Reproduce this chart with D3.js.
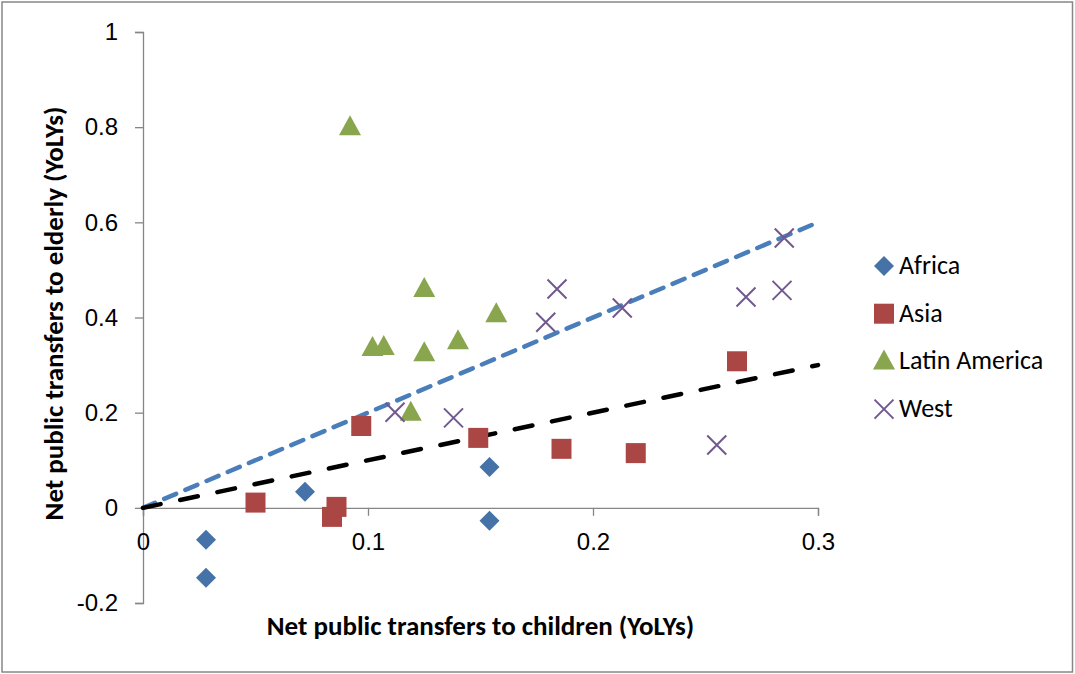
<!DOCTYPE html>
<html>
<head>
<meta charset="utf-8">
<script src="https://cdn.jsdelivr.net/npm/d3@7"></script>
<style>
  html, body { margin: 0; padding: 0; background: #fff; }
  svg { display: block; font-family: Carlito, Calibri, Lato, "Open Sans", sans-serif; }
</style>
</head>
<body>
<svg id="chart" width="1075" height="674"></svg>
<script>
// ---- data ----
const seriesNames = ["Africa", "Asia", "Latin America", "West"];
const africaX = [0.028, 0.028, 0.072, 0.154, 0.154];
const africaY = [-0.067, -0.147, 0.034, 0.086, -0.027];
const asiaX = [0.050, 0.084, 0.086, 0.097, 0.149, 0.186, 0.219, 0.264];
const asiaY = [0.011, -0.019, 0.002, 0.172, 0.147, 0.124, 0.115, 0.308];
const latamX = [0.092, 0.102, 0.107, 0.119, 0.125, 0.125, 0.140, 0.157];
const latamY = [0.800, 0.336, 0.338, 0.200, 0.460, 0.325, 0.350, 0.407];
const westX = [0.112, 0.138, 0.179, 0.184, 0.213, 0.255, 0.268, 0.284, 0.285];
const westY = [0.201, 0.189, 0.390, 0.460, 0.420, 0.132, 0.443, 0.457, 0.567];
const lineBlueX = [0, 0.3];
const lineBlueY = [0, 0.6];
const lineBlackX = [0, 0.3];
const lineBlackY = [0, 0.3];
const xTicks = [0, 0.1, 0.2, 0.3];
const yTicks = [-0.2, 0, 0.2, 0.4, 0.6, 0.8, 1];
const xTickLabels = ["0", "0.1", "0.2", "0.3"];
const yTickLabels = ["-0.2", "0", "0.2", "0.4", "0.6", "0.8", "1"];
const xTitle = "Net public transfers to children (YoLYs)";
const yTitle = "Net public transfers to elderly (YoLYs)";

const colors = ["#4572A7", "#AA4643", "#89A54E", "#71588F"];
const shapes = ["diamond", "square", "triangle", "cross"];

const svg = d3.select("#chart");
const W = 1075, H = 674;

// outer border
svg.append("rect").attr("x", 2).attr("y", 2).attr("width", W - 4.5).attr("height", H - 4)
  .attr("fill", "#fff").attr("stroke", "#878787").attr("stroke-width", 1.5);

const x = d3.scaleLinear().domain([0, 0.3]).range([143, 818]);
const y = d3.scaleLinear().domain([-0.2, 1]).range([603, 32]);

// y axis at x=0
const yAxis = d3.axisLeft(y).tickValues(yTicks).tickSize(8).tickPadding(17)
  .tickFormat((d, i) => yTickLabels[i]);
const gy = svg.append("g").attr("transform", `translate(${x(0)},0)`).call(yAxis);
gy.select(".domain").attr("stroke", "#868686").attr("stroke-width", 1.3);
gy.selectAll(".tick line").attr("stroke", "#868686").attr("stroke-width", 1.3);
gy.selectAll("text").attr("font-size", 24).attr("fill", "#000");

// x axis at y=0
const xAxis = d3.axisBottom(x).tickValues(xTicks).tickSize(8).tickPadding(17)
  .tickFormat((d, i) => xTickLabels[i]);
const gx = svg.append("g").attr("transform", `translate(0,${y(0)})`).call(xAxis);
gx.select(".domain").attr("stroke", "#868686").attr("stroke-width", 1.3);
gx.selectAll(".tick line").attr("stroke", "#868686").attr("stroke-width", 1.3);
gx.selectAll("text").attr("font-size", 24).attr("fill", "#000");

// axis titles
svg.append("text").attr("x", (x(0) + x(0.3)) / 2).attr("y", 635)
  .attr("text-anchor", "middle").attr("font-size", 27).attr("font-weight", "bold")
  .text(xTitle);
svg.append("text").attr("transform", `translate(63,${(y(1) + y(-0.2)) / 2 - 4}) rotate(-90)`)
  .attr("text-anchor", "middle").attr("font-size", 27).attr("font-weight", "bold")
  .text(yTitle);

// trend lines
const line = d3.line().x(d => x(d[0])).y(d => y(d[1]));
svg.append("path").datum(d3.zip(lineBlueX, lineBlueY)).attr("d", line)
  .attr("fill", "none").attr("stroke", "#4A7EBB").attr("stroke-width", 4.5)
  .attr("stroke-dasharray", "13,10").attr("stroke-linecap", "round");
svg.append("path").datum(d3.zip(lineBlackX, lineBlackY)).attr("d", line)
  .attr("fill", "none").attr("stroke", "#000").attr("stroke-width", 4.5)
  .attr("stroke-dasharray", "18,20").attr("stroke-linecap", "round");

// markers
function drawMarker(g, shape, color, cx, cy) {
  if (shape === "diamond") {
    g.append("path").attr("d", `M${cx},${cy - 10}L${cx + 10},${cy}L${cx},${cy + 10}L${cx - 10},${cy}Z`)
      .attr("fill", color);
  } else if (shape === "square") {
    g.append("rect").attr("x", cx - 10).attr("y", cy - 10).attr("width", 20).attr("height", 20)
      .attr("fill", color);
  } else if (shape === "triangle") {
    g.append("path").attr("d", `M${cx},${cy - 12}L${cx + 11},${cy + 8}L${cx - 11},${cy + 8}Z`)
      .attr("fill", color);
  } else {
    g.append("path").attr("d", `M${cx - 9.5},${cy - 9.5}L${cx + 9.5},${cy + 9.5}M${cx + 9.5},${cy - 9.5}L${cx - 9.5},${cy + 9.5}`)
      .attr("stroke", color).attr("stroke-width", 2).attr("fill", "none");
  }
}

const allX = [africaX, asiaX, latamX, westX];
const allY = [africaY, asiaY, latamY, westY];
const mg = svg.append("g");
allX.forEach((xs, i) => {
  xs.forEach((xv, j) => drawMarker(mg, shapes[i], colors[i], x(xv), y(allY[i][j])));
});

// legend
const lg = svg.append("g");
seriesNames.forEach((name, i) => {
  const cy = 266 + i * 47.7;
  drawMarker(lg, shapes[i], colors[i], 884, cy);
  lg.append("text").attr("x", 899).attr("y", cy + 8).attr("font-size", 26).attr("fill", "#000").text(name);
});
</script>
</body>
</html>
